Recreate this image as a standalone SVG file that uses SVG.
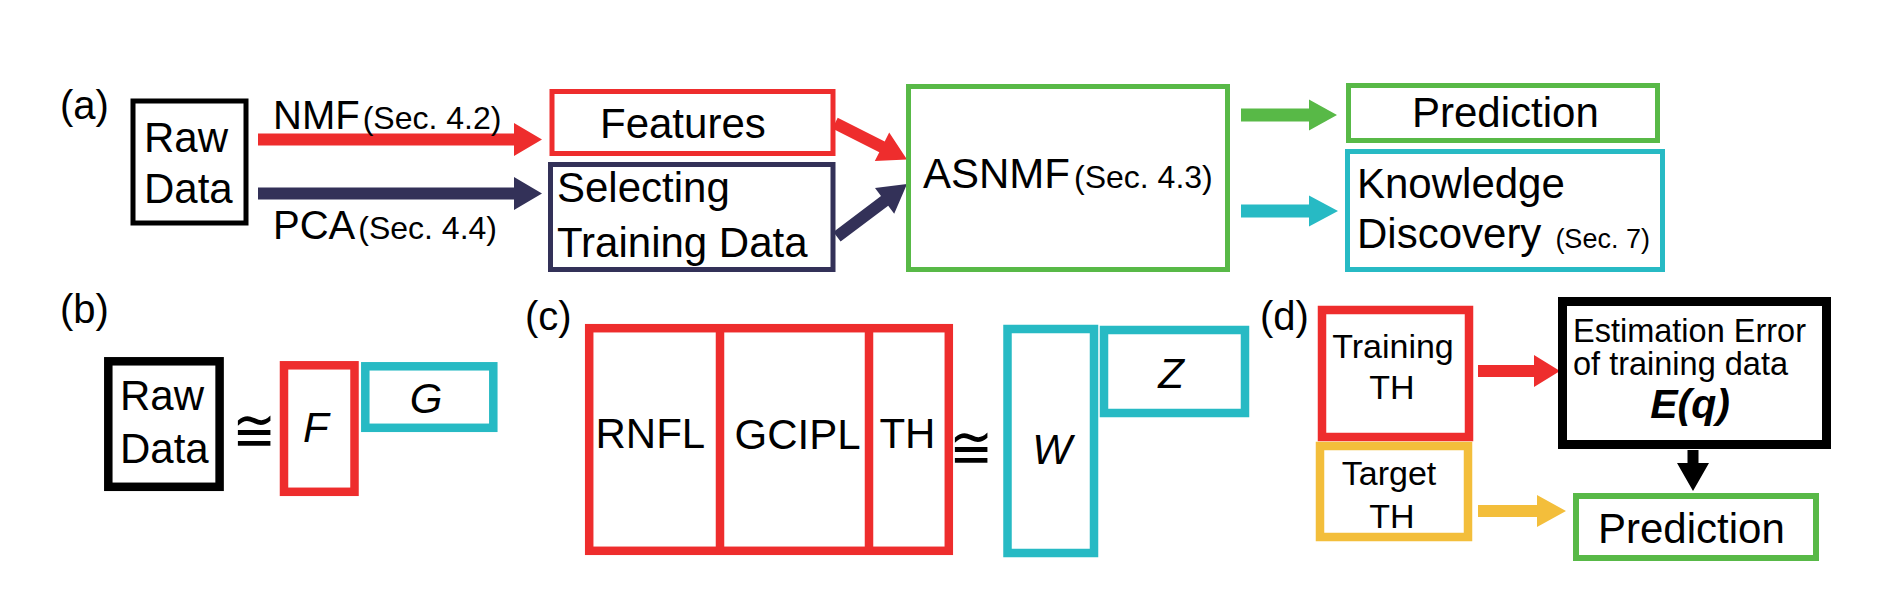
<svg xmlns="http://www.w3.org/2000/svg" width="1877" height="595" viewBox="0 0 1877 595">
<style>
text{font-family:"Liberation Sans",Arial,sans-serif;fill:#000}
.t42{font-size:42px}
.t40{font-size:40px}
.t34{font-size:34px}
.sec{font-size:32px}
.it{font-style:italic}
.sym{font-family:"DejaVu Sans",sans-serif;font-size:52px}
.box{fill:#fff}
.red{stroke:#EE2D2D}
.navy{stroke:#333158}
.green{stroke:#58B947}
.cyan{stroke:#27BAC4}
.yellow{stroke:#F3BE3B}
.blk{stroke:#000}
.thin{stroke-width:5}
.thick{stroke-width:8.5}
</style>
<rect width="1877" height="595" fill="#fff"/>

<g id="labels">
<text class="t40" x="60" y="119">(a)</text>
<text class="t40" x="60" y="323">(b)</text>
<text class="t40" x="525" y="330">(c)</text>
<text class="t40" x="1260" y="330">(d)</text>
</g>

<g id="connectors">
<polygon fill="#EE2D2D" points="258,133.5 514,133.5 514,123 542,139.5 514,156 514,145.5 258,145.5"/>
<polygon fill="#333158" points="258,187.5 514,187.5 514,177 542,193.5 514,210 514,199.5 258,199.5"/>
<polygon fill="#EE2D2D" points="837.7,117.7 884.7,141.5 889.2,132.5 907,159.5 874.8,161.1 879.3,152.2 832.3,128.4"/>
<polygon fill="#333158" points="833.4,231.9 881,196.1 875,188.1 907,184 894.2,213.7 888.2,205.7 840.6,241.5"/>
<polygon fill="#58B947" points="1241,108.5 1309,108.5 1309,99.5 1337,115 1309,130.5 1309,121.5 1241,121.5"/>
<polygon fill="#27BAC4" points="1241,204.5 1309,204.5 1309,195.5 1338,211 1309,226.5 1309,217.5 1241,217.5"/>
<polygon fill="#EE2D2D" points="1478,365 1534,365 1534,355 1560,371 1534,387 1534,377 1478,377"/>
<polygon fill="#F3BE3B" points="1478,505 1537,505 1537,495 1566,511 1537,527 1537,517 1478,517"/>
<polygon fill="#000" points="1687.5,450 1698.5,450 1698.5,463 1709,463 1693,491 1677,463 1687.5,463"/>
</g>

<g id="a-rawdata">
<rect class="box blk thin" x="133" y="101" width="113" height="122"/>
<text class="t42" x="144" y="152">Raw</text>
<text class="t42" x="144" y="203">Data</text>
</g>
<g id="a-nmf-label">
<text class="t40" x="273" y="129">NMF<tspan class="sec" dx="3">(Sec. 4.2)</tspan></text>
</g>
<g id="a-pca-label">
<text class="t40" x="273" y="239">PCA<tspan class="sec" dx="3">(Sec. 4.4)</tspan></text>
</g>
<g id="a-features">
<rect class="box red thin" x="552" y="91.5" width="281" height="62"/>
<text class="t42" x="600" y="138">Features</text>
</g>
<g id="a-selecting">
<rect class="box navy thin" x="550.5" y="164.5" width="282.5" height="105"/>
<text class="t42" x="557" y="202">Selecting</text>
<text class="t42" x="557" y="257">Training Data</text>
</g>
<g id="a-asnmf">
<rect class="box green thin" x="908.5" y="86.5" width="319" height="183"/>
<text class="t42" x="923" y="188">ASNMF<tspan class="sec" dx="4">(Sec. 4.3)</tspan></text>
</g>
<g id="a-prediction">
<rect class="box green thin" x="1348.5" y="85.5" width="309" height="55"/>
<text class="t42" x="1412" y="127">Prediction</text>
</g>
<g id="a-knowledge">
<rect class="box cyan thin" x="1347.5" y="151.5" width="315" height="118"/>
<text class="t42" x="1357" y="198">Knowledge</text>
<text class="t42" x="1357" y="248">Discovery<tspan font-size="27px" dx="14">(Sec. 7)</tspan></text>
</g>

<g id="b-rawdata">
<rect class="box blk thick" x="108.3" y="361.3" width="111.3" height="125.5"/>
<text class="t42" x="120" y="410">Raw</text>
<text class="t42" x="120" y="463">Data</text>
</g>
<text class="sym" transform="translate(254,451) scale(1,1.15)" x="0" y="0" text-anchor="middle">≅</text>
<g id="b-F">
<rect class="box red thick" x="284" y="365.3" width="70.5" height="126.5"/>
<text class="t42 it" x="303" y="442">F</text>
</g>
<g id="b-G">
<rect class="box cyan thick" x="365.3" y="366.3" width="128" height="61.5"/>
<text class="t42 it" x="426" y="413" text-anchor="middle">G</text>
</g>

<g id="c-features">
<rect class="box red thick" x="589.2" y="328.2" width="359.6" height="222.6"/>
<line class="red thick" x1="720" y1="328" x2="720" y2="551"/>
<line class="red thick" x1="869" y1="328" x2="869" y2="551"/>
<text class="t42" x="595.5" y="448">RNFL</text>
<text class="t42" x="734.6" y="449">GCIPL</text>
<text class="t42" x="879.4" y="448">TH</text>
</g>
<text class="sym" transform="translate(971,468) scale(1,1.15)" x="0" y="0" text-anchor="middle">≅</text>
<g id="c-W">
<rect class="box cyan thick" x="1007.5" y="329" width="86.5" height="224"/>
<text class="t42 it" x="1052" y="464" text-anchor="middle">W</text>
</g>
<g id="c-Z">
<rect class="box cyan thick" x="1104" y="330" width="141" height="83"/>
<text class="t42 it" x="1171" y="388" text-anchor="middle">Z</text>
</g>

<g id="d-training">
<rect class="box red thick" x="1322" y="310" width="147" height="127"/>
<text class="t34" x="1393" y="358" text-anchor="middle">Training</text>
<text class="t34" x="1392" y="399" text-anchor="middle">TH</text>
</g>
<g id="d-target">
<rect class="box yellow thick" x="1320" y="446" width="148" height="91"/>
<text class="t34" x="1389" y="485" text-anchor="middle">Target</text>
<text class="t34" x="1392" y="528" text-anchor="middle">TH</text>
</g>
<g id="d-error">
<rect class="box blk" stroke-width="9" x="1562.5" y="301.5" width="264" height="143"/>
<text font-size="32.5px" x="1573" y="342">Estimation Error</text>
<text font-size="32.5px" x="1573" y="375">of training data</text>
<text font-size="41px" font-weight="bold" font-style="italic" x="1690" y="418" text-anchor="middle">E(q)</text>
</g>
<g id="d-prediction">
<rect class="box green" stroke-width="6" x="1576" y="496" width="240" height="62"/>
<text class="t42" x="1598" y="543">Prediction</text>
</g>
</svg>
